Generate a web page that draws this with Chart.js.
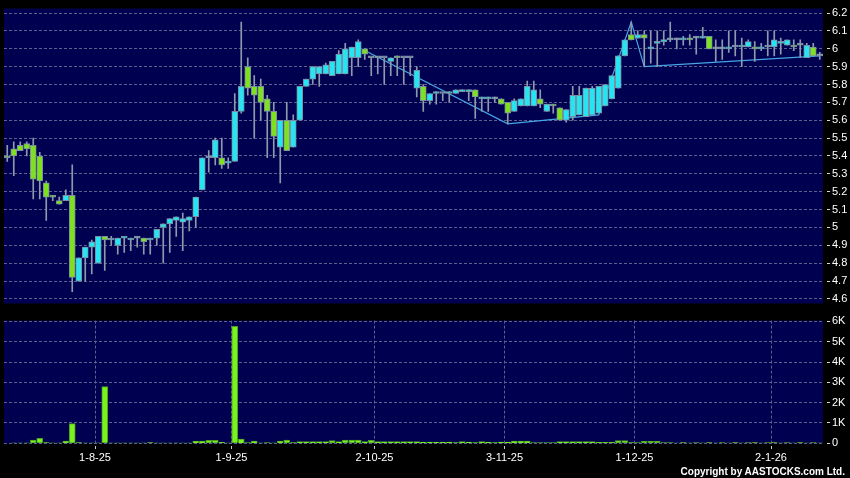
<!DOCTYPE html>
<html>
<head>
<meta charset="utf-8">
<script src="https://cdn.jsdelivr.net/npm/chart.js@4/dist/chart.umd.min.js"></script>
<style>
    html, body { margin: 0; padding: 0; background: #000; }
    #wrap { position: relative; width: 850px; height: 478px; background: #000; overflow: hidden; }
    #price-chart { position: absolute; left: 0; top: 0; }
    #volume-chart { position: absolute; left: 0; top: 312px; }
    #copy {
        position: absolute; right: 5px; top: 466px;
        color: #fff; font: bold 10px "Liberation Sans", Arial, sans-serif;
        line-height: 12px; white-space: nowrap;
    }
</style>
</head>
<body>
<div id="wrap">
    <canvas id="price-chart" width="850" height="312"></canvas>
    <canvas id="volume-chart" width="850" height="166"></canvas>
    <div id="copy">Copyright by AASTOCKS.com Ltd.</div>
</div>
<script>
// trading days, d-m-yy
const dates = [
    '15-7-25','16-7-25','17-7-25','18-7-25','21-7-25','22-7-25','23-7-25','24-7-25','25-7-25','28-7-25','29-7-25','30-7-25','31-7-25',
    '1-8-25','4-8-25','5-8-25','6-8-25','7-8-25','8-8-25','11-8-25','12-8-25','13-8-25','14-8-25','15-8-25','18-8-25','19-8-25','20-8-25','21-8-25','22-8-25','25-8-25','26-8-25','27-8-25','28-8-25','29-8-25',
    '1-9-25','2-9-25','3-9-25','4-9-25','5-9-25','8-9-25','9-9-25','10-9-25','11-9-25','12-9-25','15-9-25','16-9-25','17-9-25','18-9-25','19-9-25','22-9-25','23-9-25','24-9-25','25-9-25','26-9-25','29-9-25','30-9-25',
    '2-10-25','3-10-25','6-10-25','8-10-25','9-10-25','10-10-25','13-10-25','14-10-25','15-10-25','16-10-25','17-10-25','20-10-25','21-10-25','22-10-25','23-10-25','24-10-25','27-10-25','28-10-25','30-10-25','31-10-25',
    '3-11-25','4-11-25','5-11-25','6-11-25','7-11-25','10-11-25','11-11-25','12-11-25','13-11-25','14-11-25','17-11-25','18-11-25','19-11-25','20-11-25','21-11-25','24-11-25','25-11-25','26-11-25','27-11-25','28-11-25',
    '1-12-25','2-12-25','3-12-25','4-12-25','5-12-25','8-12-25','9-12-25','10-12-25','11-12-25','12-12-25','15-12-25','16-12-25','17-12-25','18-12-25','19-12-25','22-12-25','23-12-25','24-12-25','29-12-25','30-12-25','31-12-25',
    '2-1-26','5-1-26','6-1-26','7-1-26','8-1-26','9-1-26','12-1-26','13-1-26','14-1-26'
];

const opens = [
    5.40,5.44,5.46,5.47,5.46,5.40,5.25,5.18,5.15,5.15,
    5.18,4.70,4.83,4.89,4.80,4.95,4.93,4.90,4.94,4.93,
    4.94,4.94,4.93,4.94,5.00,5.02,5.04,5.03,5.04,5.06,
    5.21,5.39,5.39,5.39,5.36,5.37,5.65,5.90,5.79,5.79,
    5.72,5.65,5.45,5.60,5.45,5.60,5.79,5.83,5.86,5.86,
    5.85,5.86,5.86,5.95,5.95,6.00,5.95,5.95,5.95,5.93,
    5.96,5.95,5.95,5.78,5.79,5.71,5.75,5.75,5.75,5.75,
    5.76,5.76,5.77,5.72,5.72,5.72,5.72,5.70,5.65,5.68,
    5.68,5.68,5.72,5.65,5.69,5.67,5.60,5.62,5.63,5.62,
    5.63,5.64,5.68,5.72,5.78,5.96,6.08,6.06,6.08,6.00,
    6.03,6.04,6.05,6.05,6.05,6.06,6.06,6.06,6.07,6.00,
    6.00,6.00,6.01,6.01,6.01,6.01,6.00,6.01,6.01,6.03,
    6.02,6.02,6.02,5.95,6.01,5.96
];
const highs = [
    5.46,5.48,5.48,5.48,5.50,5.42,5.26,5.18,5.17,5.21,
    5.35,4.83,4.89,4.93,4.95,4.95,4.95,4.94,4.95,4.94,
    4.95,4.94,4.94,4.99,5.02,5.05,5.06,5.08,5.06,5.17,
    5.39,5.43,5.50,5.50,5.39,5.75,6.15,5.95,5.85,5.83,
    5.74,5.70,5.60,5.70,5.63,5.79,5.83,5.90,5.90,5.92,
    5.93,5.99,6.03,6.01,6.05,6.00,5.95,5.95,5.95,5.95,
    5.96,5.95,5.95,5.90,5.80,5.75,5.76,5.75,5.76,5.77,
    5.77,5.77,5.77,5.73,5.73,5.73,5.72,5.70,5.72,5.72,
    5.82,5.82,5.77,5.69,5.69,5.67,5.66,5.79,5.79,5.78,
    5.79,5.79,5.80,5.85,5.96,6.05,6.15,6.10,6.10,6.10,
    6.10,6.10,6.15,6.06,6.07,6.08,6.07,6.12,6.07,6.05,
    6.05,6.10,6.10,6.06,6.05,6.04,6.03,6.10,6.10,6.06,
    6.05,6.05,6.05,6.03,6.03,5.98
];
const lows = [
    5.37,5.29,5.43,5.40,5.16,5.16,5.04,5.15,5.13,5.15,
    4.64,4.70,4.70,4.74,4.80,4.76,4.90,4.85,4.86,4.87,
    4.89,4.85,4.85,4.90,4.80,4.86,4.95,4.87,4.98,5.00,
    5.21,5.31,5.35,5.33,5.33,5.37,5.64,5.74,5.50,5.60,
    5.39,5.39,5.25,5.43,5.45,5.60,5.79,5.80,5.79,5.86,
    5.85,5.86,5.86,5.85,5.90,5.94,5.85,5.86,5.80,5.85,
    5.85,5.80,5.85,5.73,5.65,5.69,5.69,5.71,5.70,5.75,
    5.76,5.71,5.61,5.65,5.65,5.70,5.69,5.58,5.65,5.68,
    5.68,5.68,5.67,5.65,5.64,5.60,5.59,5.60,5.63,5.62,
    5.63,5.64,5.68,5.72,5.78,5.96,6.05,6.06,5.90,5.92,
    5.90,6.02,6.04,6.00,6.02,6.02,5.97,6.06,6.00,5.93,
    5.94,5.98,5.96,5.90,6.01,5.93,5.99,5.96,5.96,5.97,
    6.02,5.99,5.95,5.95,5.96,5.94
];
const closes = [
    5.39,5.40,5.43,5.44,5.27,5.26,5.17,5.17,5.13,5.18,
    4.72,4.83,4.89,4.92,4.95,4.93,4.93,4.94,4.95,4.94,
    4.94,4.92,4.94,4.99,5.02,5.05,5.06,5.05,5.06,5.17,
    5.39,5.39,5.49,5.35,5.37,5.65,5.79,5.78,5.74,5.70,
    5.65,5.51,5.60,5.43,5.60,5.79,5.83,5.90,5.90,5.91,
    5.93,5.97,6.00,6.01,6.04,5.97,5.95,5.95,5.95,5.95,
    5.95,5.95,5.95,5.88,5.71,5.75,5.76,5.75,5.76,5.77,
    5.77,5.77,5.73,5.73,5.73,5.72,5.69,5.64,5.71,5.72,
    5.79,5.77,5.69,5.69,5.68,5.60,5.66,5.74,5.74,5.78,
    5.78,5.79,5.80,5.85,5.96,6.05,6.05,6.08,6.06,6.01,
    6.04,6.05,6.05,6.05,6.06,6.05,6.06,6.07,6.00,6.00,
    6.00,6.01,6.01,6.02,6.04,6.00,6.01,6.01,6.05,6.04,
    6.05,6.01,6.02,6.02,5.96,5.96
];
const volumes = [
    0,20,10,10,160,240,40,10,10,110,
    970,40,20,10,10,2790,5,10,10,20,
    5,10,40,10,20,20,10,20,10,110,
    110,150,150,50,10,5760,210,30,110,10,
    30,10,110,160,40,80,80,80,80,80,
    130,80,160,160,160,80,150,80,80,80,
    80,80,80,80,60,60,60,60,60,40,
    80,60,40,80,60,40,60,60,110,110,
    110,30,30,30,30,80,80,80,80,80,
    80,50,50,50,130,130,40,30,100,100,
    100,30,30,20,40,20,30,20,40,20,
    30,20,40,20,30,40,20,30,40,20,
    30,20,40,20,30,20
];

// turning-point line drawn over the candles
const swingIdx = [55, 77, 91, 96, 98, 125];
const swingVal = [5.99, 5.58, 5.63, 6.15, 5.90, 5.96];

const priceTicks = [4.6,4.7,4.8,4.9,5.0,5.1,5.2,5.3,5.4,5.5,5.6,5.7,5.8,5.9,6.0,6.1,6.2];
const volumeTicks = [0,1000,2000,3000,4000,5000,6000];

const NAVY = '#000050';
const GRID = '#5e5e90';
const CYAN = '#26e4f2';
const GREEN = '#7ee01e';
const FLAT = '#9ab4c6';
const EDGE = '#7a8ea2';
const WICK = '#8e9aac';
const FONT = { family: '"Liberation Sans", Arial, sans-serif', size: 11 };

// first trading day of each month (skipping the very first candle)
const monthIdx = dates.map((d, i) => i).filter(i =>
    i > 0 && dates[i].split('-')[1] !== dates[i - 1].split('-')[1]);

const plotBg = {
    id: 'plotBg',
    beforeDraw(chart) {
        const { ctx, chartArea: a } = chart;
        ctx.save();
        ctx.fillStyle = NAVY;
        ctx.fillRect(a.left, a.top, a.right - a.left, a.bottom - a.top);
        ctx.restore();
    }
};

const monthTicks = axis => { axis.ticks = monthIdx.map(i => ({ value: i + 0.5 })); };

const wickData = lows.map((l, i) => [l, highs[i]]);
const bodyData = opens.map((o, i) => [o, closes[i]]);
const bodyColors = opens.map((o, i) =>
    closes[i] > o ? CYAN : closes[i] < o ? GREEN : FLAT);
const swingData = dates.map((d, i) => {
    const k = swingIdx.indexOf(i);
    return k >= 0 ? swingVal[k] : null;
});

new Chart(document.getElementById('price-chart'), {
    type: 'bar',
    data: {
        labels: dates,
        datasets: [
            {
                type: 'line',
                data: swingData,
                borderColor: '#45a6e6',
                borderWidth: 1.2,
                pointRadius: 0,
                spanGaps: true,
                order: 3
            },
            {
                data: wickData,
                backgroundColor: WICK,
                barThickness: 1,
                grouped: false,
                order: 2
            },
            {
                data: bodyData,
                backgroundColor: bodyColors,
                borderColor: EDGE,
                borderWidth: 1,
                borderSkipped: false,
                barThickness: 6,
                minBarLength: 2,
                grouped: false,
                order: 1
            }
        ]
    },
    options: {
        responsive: false,
        animation: false,
        layout: { padding: { left: 4, top: 5, right: 0, bottom: 7 } },
        plugins: { legend: { display: false }, tooltip: { enabled: false } },
        scales: {
            x: {
                offset: true,
                grid: { color: GRID, offset: false, drawTicks: false },
                border: { display: false, dash: [3, 2] },
                ticks: { display: false },
                afterBuildTicks: monthTicks,
                afterFit: axis => { axis.height = 0; }
            },
            y: {
                position: 'right',
                min: 4.575,
                max: 6.225,
                grid: { color: GRID, tickColor: '#dddddd', tickLength: 7, tickBorderDash: [0, 4, 3, 20] },
                border: { display: false, dash: [3, 2] },
                ticks: {
                    color: '#ffffff',
                    font: FONT,
                    padding: 2,
                    callback: v => String(Number(v.toFixed(1)))
                },
                afterBuildTicks: axis => { axis.ticks = priceTicks.map(v => ({ value: v })); },
                afterFit: axis => { axis.width = 27; }
            }
        }
    },
    plugins: [plotBg]
});

new Chart(document.getElementById('volume-chart'), {
    type: 'bar',
    data: {
        labels: dates,
        datasets: [{
            data: volumes,
            backgroundColor: '#7af21e',
            borderColor: '#4c9a22',
            borderWidth: 1,
            borderSkipped: 'start',
            barThickness: 6
        }]
    },
    options: {
        responsive: false,
        animation: false,
        layout: { padding: { left: 4, top: 7, right: 0, bottom: 0 } },
        plugins: { legend: { display: false }, tooltip: { enabled: false } },
        scales: {
            x: {
                offset: true,
                grid: {
                    color: GRID, offset: false, drawTicks: true,
                    tickLength: 6, tickColor: '#cccccc', tickBorderDash: [0, 3, 3, 20]
                },
                border: { display: false, dash: [3, 2] },
                ticks: {
                    color: '#ffffff',
                    font: FONT,
                    padding: 2,
                    autoSkip: false,
                    maxRotation: 0,
                    callback: v => dates[Math.floor(v)]
                },
                afterBuildTicks: monthTicks,
                afterFit: axis => { axis.height = 34.7; }
            },
            y: {
                position: 'right',
                min: 0,
                max: 6040,
                grid: { color: GRID, tickColor: '#dddddd', tickLength: 7, tickBorderDash: [0, 4, 3, 20] },
                border: { display: false, dash: [3, 2] },
                ticks: {
                    color: '#ffffff',
                    font: FONT,
                    padding: 2,
                    callback: v => v === 0 ? '0' : (v / 1000) + 'K'
                },
                afterBuildTicks: axis => { axis.ticks = volumeTicks.map(v => ({ value: v })); },
                afterFit: axis => { axis.width = 27; }
            }
        }
    },
    plugins: [plotBg]
});
</script>
</body>
</html>
